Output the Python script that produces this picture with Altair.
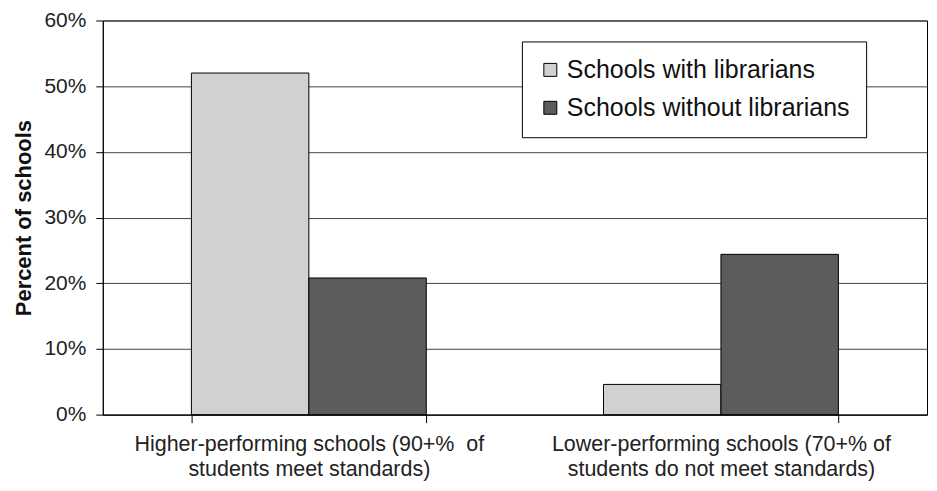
import altair as alt
import pandas as pd

categories = [
    "Higher-performing schools (90+%\u00a0 of|students meet standards)",
    "Lower-performing schools (70+% of|students do not meet standards)",
]
series = ["Schools with librarians", "Schools without librarians"]
with_librarians = [0.52, 0.046]
without_librarians = [0.208, 0.244]
y_ticks = [0.0, 0.1, 0.2, 0.3, 0.4, 0.5, 0.6]
colors = ["#d1d1d1", "#5c5c5c"]

rows = []
for i, c in enumerate(categories):
    rows.append({"category": c, "series": series[0], "value": with_librarians[i]})
    rows.append({"category": c, "series": series[1], "value": without_librarians[i]})
df = pd.DataFrame(rows)

FONT = "Liberation Sans"

chart = (
    alt.Chart(df)
    .mark_bar(stroke="black", strokeWidth=1)
    .encode(
        x=alt.X(
            "category:N",
            sort=categories,
            scale=alt.Scale(paddingInner=0.43, paddingOuter=0.215),
            axis=alt.Axis(
                title=None,
                labelAngle=0,
                labelExpr="split(datum.label, '|')",
                tickBand="extent",
                tickSize=8,
                tickColor="black",
                domainColor="black",
                labelFont=FONT,
                labelFontSize=21.5,
                labelColor="#222222",
                labelLineHeight=25,
                labelBaseline="top",
                labelPadding=11,
                labelLimit=0,
                labelOverlap=False,
                labelBound=False,
                grid=False,
            ),
        ),
        xOffset=alt.XOffset(
            "series:N", sort=series, scale=alt.Scale(paddingInner=0, paddingOuter=0)
        ),
        y=alt.Y(
            "value:Q",
            scale=alt.Scale(domain=[0, 0.6], nice=False),
            axis=alt.Axis(
                values=y_ticks,
                format=".0%",
                title="Percent of schools",
                titleFont=FONT,
                titleFontSize=22,
                titleFontWeight="bold",
                titleColor="#111111",
                titlePadding=8,
                labelFont=FONT,
                labelFontSize=21,
                labelColor="#222222",
                labelPadding=10,
                tickSize=7,
                tickColor="black",
                domainColor="black",
                gridColor="#444444",
                gridWidth=1,
            ),
        ),
        color=alt.Color(
            "series:N",
            sort=series,
            scale=alt.Scale(domain=series, range=colors),
            legend=alt.Legend(
                title=None,
                orient="none",
                legendX=420,
                legendY=21,
                fillColor="white",
                strokeColor="black",
                padding=16,
                labelFont=FONT,
                labelFontSize=25,
                labelColor="#111111",
                labelLimit=0,
                labelOffset=4,
                labelExpr="datum.label + '\u00a0\u00a0\u00a0'",
                symbolType="square",
                symbolSize=169,
                symbolStrokeColor="black",
                symbolStrokeWidth=1,
                rowPadding=12,
            ),
        ),
    )
    .properties(
        width=826,
        height=395,
        autosize=alt.AutoSizeParams(type="none"),
        padding={"left": 95, "top": 12, "right": 2, "bottom": 68},
    )
    .configure_view(stroke="black", strokeWidth=1)
)

chart.save("out.html", embed_options={"renderer": "svg", "actions": False})
